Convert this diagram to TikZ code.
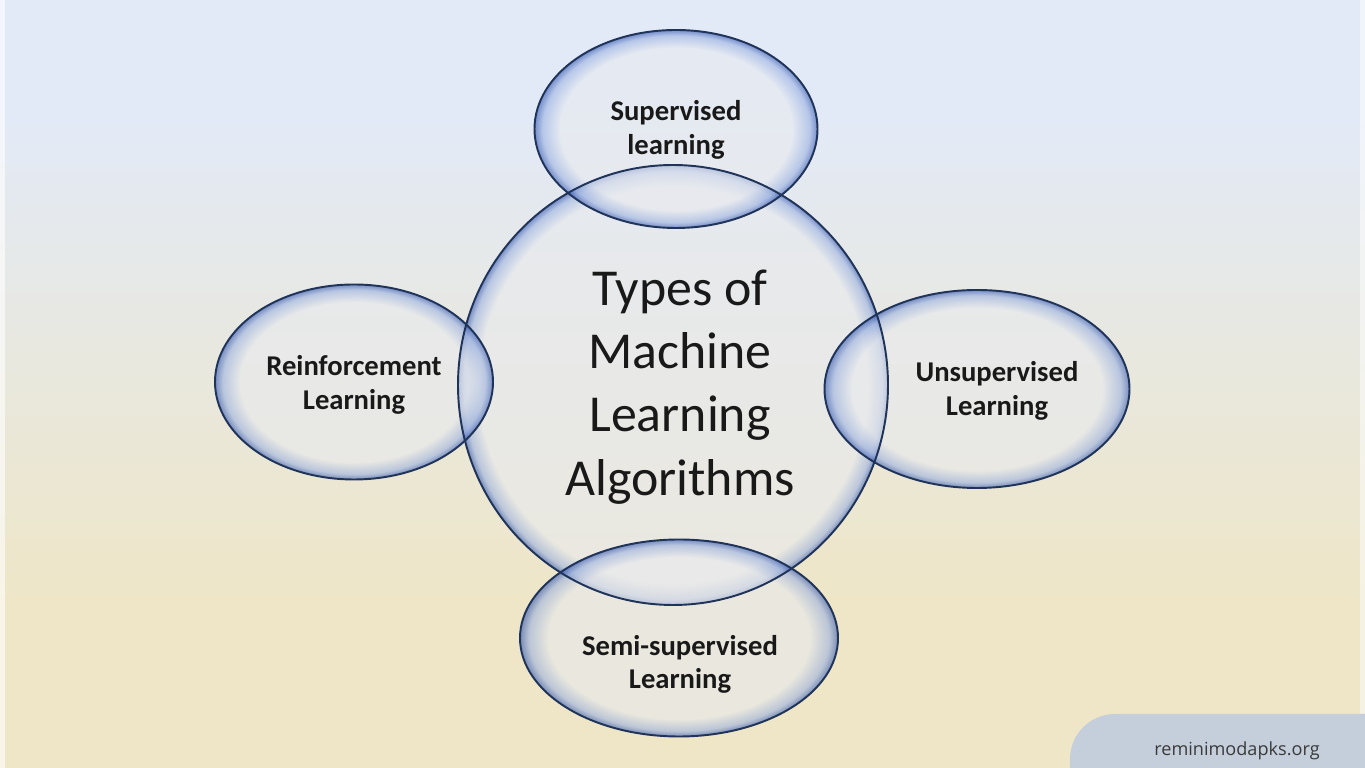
\documentclass[tikz,border=0pt]{standalone}
\usepackage{fontspec}
\setmainfont{Carlito}
\newfontfamily\markfont{Open Sans}
\usetikzlibrary{shapes.geometric}

\definecolor{bgtop}{HTML}{E2EAF8}
\definecolor{bgbot}{HTML}{EEE6C7}
\definecolor{glowin}{HTML}{E8EAEE}
\definecolor{glowmid}{HTML}{9AB0E0}
\definecolor{glowout}{HTML}{2D52AE}
\definecolor{rimline}{HTML}{203358}
\definecolor{markbg}{HTML}{C5CFDC}
\definecolor{marktxt}{HTML}{3A3A3A}

\pgfdeclareverticalshading{bgfade}{100bp}{color(0bp)=(bgbot); color(36bp)=(bgbot); color(68bp)=(bgtop); color(100bp)=(bgtop)}
\pgfdeclareradialshading{rimglow}{\pgfpoint{0bp}{0bp}}{color(0bp)=(glowin); color(20.5bp)=(glowin); color(23.6bp)=(glowmid); color(25bp)=(glowout); color(50bp)=(glowout)}
\pgfdeclareradialshading{rimglowbig}{\pgfpoint{0bp}{0bp}}{color(0bp)=(glowin); color(22.6bp)=(glowin); color(24.3bp)=(glowmid); color(25bp)=(glowout); color(50bp)=(glowout)}

\tikzset{
  glowfill/.style={fill opacity=0.6},
  bubble/.style={ellipse, inner sep=0pt, draw=rimline, line width=1.1pt},
  hub/.style={align=center, font=\fontsize{29.5}{36}\selectfont, text=black!90},
  tag/.style={align=center, font=\fontsize{16.3}{19}\selectfont\bfseries, text=black!90},
  marktext/.style={font=\markfont\fontsize{10.3}{12}\selectfont, text=marktxt}
}

\begin{document}
\begin{tikzpicture}
					\useasboundingbox (0,0) rectangle (27.3,15.36);
					\shade[shading=bgfade] (0,0) rectangle (27.3,15.36);
					\fill[white, opacity=0.6] (0,0) rectangle (0.1,15.36);
					\fill[white, opacity=0.5] (27.2,0) rectangle (27.3,15.36);

					\foreach \x/\y/\rx/\ry/\sh in {13.46/7.66/4.3/4.4/rimglowbig, 13.52/12.78/2.83/1.98/rimglow, 7.08/7.72/2.78/1.95/rimglow, 19.54/7.58/3.05/1.98/rimglow, 13.58/2.6/3.18/1.97/rimglow}
						\shade[glowfill, shading=\sh] (\x,\y) ellipse [x radius=\rx cm, y radius=\ry cm];

					\node[bubble, minimum width=8.6cm, minimum height=8.8cm] (core) at (13.46,7.66) {};
					\node[bubble, minimum width=5.66cm, minimum height=3.96cm] (sup) at (13.52,12.78) {};
					\node[bubble, minimum width=5.56cm, minimum height=3.9cm] (rein) at (7.08,7.72) {};
					\node[bubble, minimum width=6.1cm, minimum height=3.96cm] (unsup) at (19.54,7.58) {};
					\node[bubble, minimum width=6.36cm, minimum height=3.94cm] (semi) at (13.58,2.6) {};

					\node[hub] (coretxt) at (13.6,7.62) {Types of\\Machine\\Learning\\Algorithms};
					\node[tag] (suptxt) at (13.52,12.76) {Supervised\\learning};
					\node[tag] (reintxt) at (7.08,7.66) {Reinforcement\\Learning};
					\node[tag] (unsuptxt) at (19.94,7.54) {Unsupervised\\Learning};
					\node[tag] (semitxt) at (13.6,2.07) {Semi-supervised\\Learning};

					\fill[markbg, rounded corners=0.9cm] (21.4,1.08) rectangle (28.5,-1.5);
					\node[marktext] (mark) at (24.74,0.34) {reminimodapks.org};

				\end{tikzpicture}
\end{document}
